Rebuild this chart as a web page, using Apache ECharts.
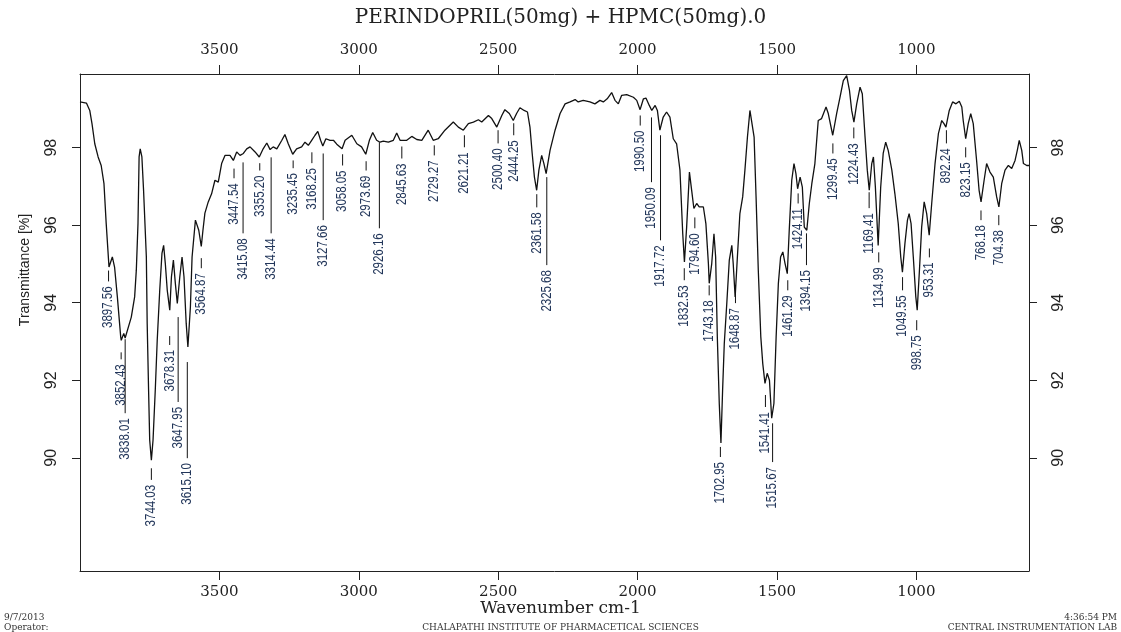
<!DOCTYPE html>
<html>
<head>
<meta charset="utf-8">
<script src="https://cdn.jsdelivr.net/npm/echarts@6/dist/echarts.min.js"></script>
<style>html,body{margin:0;padding:0;background:#fff;}#chart{width:1121px;height:632px;}</style>
</head>
<body>
<div id="chart"></div>
<script>
// ---- spectrum data (wavenumber cm-1, transmittance %) ----
const wavenumber = [4000,3977,3965,3957,3947,3935,3924,3914,3906,3896,3884,3876,3866,3854,3852,3843,3838,3816,3804,3798,3792,3788,3784,3778,3772,3762,3759,3754,3750,3744,3738,3730,3723,3714,3706,3700,3694,3687,3678,3672,3665,3658,3651,3642,3634,3627,3619,3613,3604,3598,3586,3574,3565,3559,3552,3540,3528,3516,3504,3492,3480,3462,3450,3438,3426,3414,3402,3390,3372,3357,3343,3330,3318,3307,3294,3276,3265,3253,3237,3223,3205,3193,3181,3169,3157,3147,3137,3129,3118,3103,3091,3079,3060,3049,3025,3007,2990,2975,2962,2950,2936,2924,2912,2894,2876,2864,2852,2846,2828,2810,2792,2774,2751,2733,2715,2691,2661,2643,2625,2607,2589,2571,2559,2535,2523,2505,2487,2476,2460,2446,2434,2422,2407,2395,2386,2378,2370,2362,2354,2344,2336,2328,2314,2296,2278,2260,2242,2224,2213,2195,2171,2153,2135,2123,2109,2093,2081,2069,2057,2039,2015,2003,1991,1979,1970,1958,1949,1937,1929,1920,1908,1896,1884,1872,1860,1848,1838,1832,1824,1814,1806,1798,1788,1779,1764,1755,1746,1743,1734,1726,1720,1714,1707,1701,1695,1689,1680,1671,1662,1657,1650,1642,1633,1623,1615,1606,1597,1590,1582,1575,1567,1558,1551,1543,1535,1527,1519,1515,1511,1503,1495,1487,1479,1471,1463,1456,1447,1439,1432,1426,1417,1409,1402,1393,1384,1375,1364,1352,1340,1324,1316,1300,1286,1274,1262,1250,1240,1232,1224,1214,1202,1194,1184,1176,1169,1160,1154,1147,1137,1128,1119,1110,1101,1088,1077,1065,1056,1050,1041,1032,1026,1019,1011,1002,997,989,981,972,963,954,945,933,921,909,901,894,882,870,858,846,837,832,823,814,805,796,784,775,768,757,748,736,724,712,704,694,682,670,658,646,638,631,622,616,604,596];
const transmittance = [99.18,99.15,98.96,98.62,98.10,97.76,97.54,97.07,96.04,94.92,95.18,94.92,94.15,93.12,93.03,93.21,93.09,93.63,94.15,94.84,96.04,97.76,97.97,97.76,96.90,95.18,93.46,91.75,90.46,89.94,90.46,91.75,93.03,94.32,95.27,95.48,95.01,94.32,93.81,94.67,95.10,94.50,93.98,94.67,95.18,94.67,93.46,92.86,93.89,95.18,96.13,95.87,95.45,95.87,96.31,96.60,96.81,97.16,97.11,97.59,97.80,97.80,97.67,97.89,97.80,97.85,97.97,98.02,97.89,97.76,97.97,98.12,97.95,98.02,97.97,98.19,98.34,98.10,97.83,97.97,98.02,98.14,98.06,98.19,98.32,98.42,98.19,98.04,98.23,98.19,98.19,98.09,97.97,98.19,98.32,98.10,98.02,97.83,98.19,98.39,98.19,98.14,98.17,98.14,98.19,98.38,98.19,98.14,98.19,98.29,98.21,98.19,98.45,98.19,98.23,98.45,98.66,98.53,98.45,98.62,98.66,98.72,98.66,98.83,98.75,98.53,98.83,98.98,98.88,98.70,98.88,99.03,98.96,98.92,98.53,97.85,97.24,96.90,97.42,97.80,97.59,97.33,97.93,98.45,98.88,99.13,99.18,99.24,99.18,99.22,99.18,99.13,99.22,99.18,99.26,99.42,99.22,99.13,99.35,99.37,99.30,99.22,98.98,99.26,99.28,99.09,98.96,99.09,98.96,98.45,98.79,98.92,98.79,98.23,98.10,97.42,95.78,95.05,95.95,97.37,96.90,96.43,96.56,96.47,96.47,96.04,95.01,94.50,95.01,95.78,95.18,93.12,91.40,90.38,91.75,92.95,93.98,95.10,95.48,95.01,94.15,95.18,96.30,96.73,97.42,98.27,98.96,98.92,98.27,96.73,94.84,93.12,92.43,91.92,92.18,92.00,91.02,90.97,91.40,93.12,94.50,95.18,95.31,95.01,94.75,95.87,97.16,97.59,97.33,96.94,97.24,96.98,95.95,95.87,96.56,97.07,97.59,98.70,98.75,99.05,98.88,98.32,98.88,99.30,99.73,99.86,99.48,98.96,98.66,99.13,99.56,99.39,98.27,97.42,96.90,97.59,97.76,96.98,95.48,96.98,97.85,98.14,97.93,97.42,96.81,96.04,95.18,94.79,95.53,96.13,96.30,96.04,95.18,94.15,93.81,94.84,95.95,96.60,96.30,95.74,96.56,97.59,98.36,98.70,98.62,98.53,98.96,99.18,99.13,99.20,99.05,98.70,98.23,98.62,98.88,98.62,97.67,96.90,96.60,97.16,97.59,97.37,97.24,96.73,96.47,97.07,97.42,97.54,97.46,97.67,97.93,98.19,97.93,97.59,97.54,97.54];

// ---- peak annotations: wavenumber, label, leader line top/bottom (transmittance units) ----
const peakWavenumbers = [3897.56,3852.43,3838.01,3744.03,3678.31,3647.95,3615.10,3564.87,3447.54,3415.08,3355.20,3314.44,3235.45,3168.25,3127.66,3058.05,2973.69,2926.16,2845.63,2729.27,2621.21,2500.40,2444.25,2361.58,2325.68,1990.50,1950.09,1917.72,1832.53,1794.60,1743.18,1702.95,1648.87,1541.41,1515.67,1461.29,1424.11,1394.15,1299.45,1224.43,1169.41,1134.99,1049.55,998.75,953.31,892.24,823.15,768.18,704.38];
const peakLabels = ["3897.56","3852.43","3838.01","3744.03","3678.31","3647.95","3615.10","3564.87","3447.54","3415.08","3355.20","3314.44","3235.45","3168.25","3127.66","3058.05","2973.69","2926.16","2845.63","2729.27","2621.21","2500.40","2444.25","2361.58","2325.68","1990.50","1950.09","1917.72","1832.53","1794.60","1743.18","1702.95","1648.87","1541.41","1515.67","1461.29","1424.11","1394.15","1299.45","1224.43","1169.41","1134.99","1049.55","998.75","953.31","892.24","823.15","768.18","704.38"];
const peakLineTop = [94.83,92.72,93.06,89.73,93.14,93.63,92.47,95.15,97.46,97.62,97.60,97.75,97.67,97.88,97.85,97.83,97.65,98.14,98.03,98.06,98.32,98.45,98.63,96.80,97.24,98.83,98.78,98.32,94.89,96.20,94.45,90.28,94.27,91.62,90.89,94.58,96.82,95.79,98.11,98.52,96.85,95.30,94.66,93.55,95.40,98.45,98.01,96.38,96.26];
const peakLineBottom = [94.55,92.54,91.15,89.43,92.91,91.44,89.99,94.89,97.21,95.79,97.41,95.79,97.47,97.60,96.13,97.54,97.41,95.92,97.72,97.80,98.01,98.11,98.32,96.46,94.97,98.57,97.11,95.61,94.58,95.92,94.19,90.02,93.99,91.31,89.89,94.32,96.56,94.97,97.85,98.24,96.44,95.04,94.32,93.29,95.17,98.11,97.75,96.13,96.00];

// ---- axis ticks ----
const xTicks = [3500,3000,2500,2000,1500,1000];
const yTicks = [90,92,94,96,98];
const xRange = [596, 4000];
const yRange = [87.08, 99.9];

const spectrum = wavenumber.map((w, i) => [w, transmittance[i]]);
const peaks = peakWavenumbers.map((w, i) => [w, peakLineTop[i], peakLineBottom[i]]);

const chart = echarts.init(document.getElementById('chart'), null, {renderer: 'canvas'});

const serif = '"DejaVu Serif", "Liberation Serif", serif';
const sans = '"Liberation Sans", Arial, sans-serif';

function xAxisCfg(pos, margin) {
  return {
    type: 'value', position: pos, inverse: true, min: xRange[0], max: xRange[1],
    axisLine: {show: true, onZero: false, lineStyle: {color: '#222', width: 1}},
    axisTick: {show: true, length: 9, customValues: xTicks, lineStyle: {color: '#222', width: 1}},
    axisLabel: {show: true, customValues: xTicks, margin: margin, color: '#222', fontFamily: serif, fontSize: 15,
                formatter: function (v) { return String(v); }},
    splitLine: {show: false}
  };
}
function yAxisCfg(pos, margin) {
  return {
    type: 'value', position: pos, min: yRange[0], max: yRange[1],
    axisLine: {show: true, onZero: false, lineStyle: {color: '#222', width: 1}},
    axisTick: {show: true, length: 8, customValues: yTicks, lineStyle: {color: '#222', width: 1}},
    axisLabel: {show: true, customValues: yTicks, rotate: 90, margin: margin, color: '#222', fontFamily: sans, fontSize: 16,
                formatter: function (v) { return String(v); }},
    splitLine: {show: false}
  };
}

const footStyle = {fontFamily: serif, fontSize: 9, fontWeight: 'normal', color: '#333'};

chart.setOption({
  animation: false,
  backgroundColor: '#fff',
  title: [
    {text: 'PERINDOPRIL(50mg) + HPMC(50mg).0', left: 'center', top: 8, padding: 0,
     textStyle: {fontFamily: serif, fontSize: 20, fontWeight: 'normal', color: '#222'}},
    {text: 'Wavenumber cm-1', left: 'center', top: 600, padding: 0,
     textStyle: {fontFamily: serif, fontSize: 17, fontWeight: 'normal', color: '#222'}},
    {text: '9/7/2013', left: 4, top: 613, padding: 0, textStyle: footStyle},
    {text: 'Operator:', left: 4, top: 623, padding: 0, textStyle: footStyle},
    {text: 'CHALAPATHI INSTITUTE OF PHARMACETICAL SCIENCES', left: 'center', top: 623, padding: 0, textStyle: footStyle},
    {text: '4:36:54 PM', right: 4, top: 613, padding: 0, textStyle: footStyle},
    {text: 'CENTRAL INSTRUMENTATION LAB', right: 4, top: 623, padding: 0, textStyle: footStyle}
  ],
  graphic: [
    {type: 'text', x: 25, y: 270, rotation: Math.PI / 2,
     style: {text: 'Transmittance [%]', align: 'center', verticalAlign: 'middle', font: '14px "Liberation Sans", Arial, sans-serif', fill: '#222'}}
  ],
  grid: {left: 80, right: 92, top: 74, bottom: 61, show: false, containLabel: false},
  xAxis: [xAxisCfg('bottom', 14), xAxisCfg('top', 16)],
  yAxis: [yAxisCfg('left', 20), yAxisCfg('right', 22)],
  series: [
    {
      type: 'line', xAxisIndex: 0, yAxisIndex: 0, data: spectrum,
      showSymbol: false, symbol: 'none', smooth: false,
      lineStyle: {color: '#111', width: 1.3}, z: 3
    },
    {
      type: 'custom', xAxisIndex: 0, yAxisIndex: 0, data: peaks, clip: false, z: 4,
      encode: {x: 0, y: [1, 2]},
      renderItem: function (params, api) {
        const i = params.dataIndex;
        const a = api.coord([api.value(0), api.value(1)]);
        const b = api.coord([api.value(0), api.value(2)]);
        return {
          type: 'group',
          children: [
            {type: 'line', shape: {x1: a[0], y1: a[1], x2: b[0], y2: b[1]},
             style: {stroke: '#111', lineWidth: 1}},
            {type: 'text', x: b[0], y: b[1] + 5, rotation: Math.PI / 2, scaleX: 0.82,
             style: {text: peakLabels[i], align: 'right', verticalAlign: 'middle',
                     font: '14px "Liberation Sans", Arial, sans-serif', fill: '#22365a'}}
          ]
        };
      }
    }
  ]
});
</script>
</body>
</html>
